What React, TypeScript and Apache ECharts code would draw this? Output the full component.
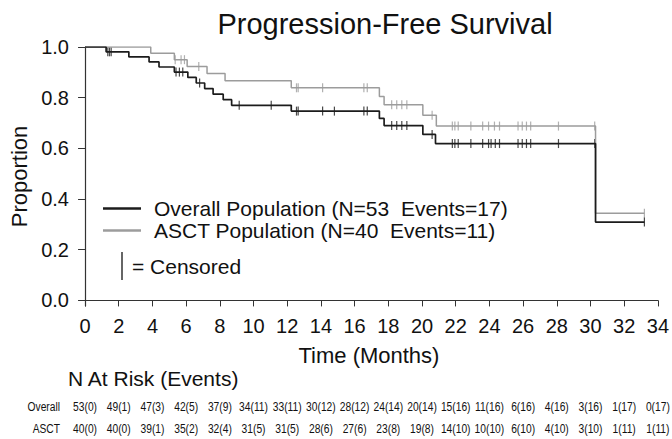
import React, { useEffect, useRef } from "react";
import * as echarts from "echarts";

const xTicks = [0, 2, 4, 6, 8, 10, 12, 14, 16, 18, 20, 22, 24, 26, 28, 30, 32, 34];
const yTicks = [0, 0.2, 0.4, 0.6, 0.8, 1.0];

const overallRisk = ["53(0)", "49(1)", "47(3)", "42(5)", "37(9)", "34(11)", "33(11)", "30(12)", "28(12)", "24(14)", "20(14)", "15(16)", "11(16)", "6(16)", "4(16)", "3(16)", "1(17)", "0(17)"];
const asctRisk = ["40(0)", "40(0)", "39(1)", "35(2)", "32(4)", "31(5)", "31(5)", "28(6)", "27(6)", "23(8)", "19(8)", "14(10)", "10(10)", "6(10)", "4(10)", "3(10)", "1(11)", "1(11)"];
const riskRowNames = ["Overall", "ASCT"];

const overallName = "Overall Population (N=53  Events=17)";
const asctName = "ASCT Population (N=40  Events=11)";

// [time (months), proportion] survival steps
const overallSteps = [
  [0, 1.0], [1.25, 0.981], [2.6, 0.961], [3.8, 0.941], [4.39, 0.921], [5.3, 0.901],
  [6.1, 0.88], [6.6, 0.858], [7.1, 0.836], [7.6, 0.814], [8.2, 0.792], [8.7, 0.77],
  [12.24, 0.747], [17.47, 0.718], [17.75, 0.69], [20.05, 0.655], [20.8, 0.619],
  [30.3, 0.309], [33.2, 0.309],
];
const overallCensored = [
  [1.35, 0.981], [1.45, 0.981], [1.55, 0.981], [5.4, 0.901], [5.6, 0.901], [5.8, 0.901],
  [6.8, 0.858], [9.15, 0.77], [11.05, 0.77], [12.55, 0.747], [12.65, 0.747], [14.1, 0.747],
  [14.8, 0.747], [16.55, 0.747], [16.75, 0.747], [18.2, 0.69], [18.5, 0.69], [18.8, 0.69],
  [19.1, 0.69], [20.6, 0.655], [21.8, 0.619], [21.95, 0.619], [22.15, 0.619], [22.9, 0.619],
  [23.6, 0.619], [23.95, 0.619], [24.1, 0.619], [24.35, 0.619], [24.6, 0.619], [25.7, 0.619],
  [25.95, 0.619], [26.2, 0.619], [26.45, 0.619], [28.1, 0.619], [30.25, 0.619], [33.2, 0.309],
];
const asctSteps = [
  [0, 1.0], [3.9, 0.975], [5.3, 0.95], [6.06, 0.923], [7.24, 0.895], [8.31, 0.867],
  [12.24, 0.839], [17.47, 0.805], [17.75, 0.772], [20.05, 0.731], [20.85, 0.688],
  [30.3, 0.344], [33.2, 0.344],
];
const asctCensored = [
  [5.35, 0.95], [5.7, 0.95], [5.9, 0.95], [6.75, 0.923], [12.55, 0.839], [12.65, 0.839],
  [14.1, 0.839], [16.55, 0.839], [16.75, 0.839], [18.2, 0.772], [18.5, 0.772], [18.8, 0.772],
  [19.1, 0.772], [20.6, 0.731], [21.8, 0.688], [21.95, 0.688], [22.15, 0.688], [22.9, 0.688],
  [23.6, 0.688], [23.95, 0.688], [24.3, 0.688], [24.6, 0.688], [25.7, 0.688], [25.95, 0.688],
  [26.2, 0.688], [26.45, 0.688], [28.1, 0.688], [30.25, 0.688], [33.2, 0.344],
];

const DARK = "#1c1c1c";
const GRAY = "#9c9c9c";
const FONT = "'Liberation Sans', Arial, sans-serif";

export default function App() {
  const ref = useRef<HTMLDivElement>(null);
  useEffect(() => {
    document.body.style.margin = "0";
    const chart = echarts.init(ref.current!, undefined, { renderer: "svg" });
    chart.setOption({
      animation: false,
      backgroundColor: "#fff",
      title: {
        text: "Progression-Free Survival",
        left: 380,
        top: 4,
        textAlign: "center",
        textStyle: { fontSize: 29, fontWeight: "normal", fontFamily: FONT, color: "#111" },
      },
      grid: { left: 77, right: 12, top: 47, bottom: 133 },
      legend: {
        orient: "vertical",
        left: 98,
        top: 193,
        itemWidth: 38,
        itemHeight: 2.5,
        itemGap: 1,
        data: [
          { name: overallName, icon: "rect" },
          { name: asctName, icon: "rect" },
        ],
        textStyle: { fontSize: 21, fontFamily: FONT, color: "#111", padding: [0, 0, 0, 8] },
      },
      xAxis: {
        type: "value",
        min: -0.3,
        max: 34,
        name: "Time (Months)",
        nameLocation: "middle",
        nameGap: 38,
        nameTextStyle: { fontSize: 22, fontFamily: FONT, color: "#111" },
        axisLine: { show: true, lineStyle: { color: "#333", width: 1.2 } },
        axisTick: { show: true, customValues: xTicks, length: 6, lineStyle: { color: "#333" } },
        axisLabel: { customValues: xTicks, margin: 10, fontSize: 20, fontFamily: FONT, color: "#111" },
        splitLine: { show: false },
      },
      yAxis: {
        type: "value",
        min: -0.022,
        max: 1.0,
        name: "Proportion",
        nameLocation: "middle",
        nameGap: 50,
        nameTextStyle: { fontSize: 22, fontFamily: FONT, color: "#111" },
        axisLine: { show: true, lineStyle: { color: "#333", width: 1.2 } },
        axisTick: { show: true, customValues: yTicks, length: 7, lineStyle: { color: "#333" } },
        axisLabel: {
          customValues: yTicks,
          margin: 11,
          fontSize: 20,
          fontFamily: FONT,
          color: "#111",
          formatter: (v: number) => v.toFixed(1),
        },
        splitLine: { show: false },
      },
      series: [
        {
          name: asctName,
          type: "line",
          step: "end",
          symbol: "none",
          data: asctSteps,
          color: GRAY,
          lineStyle: { color: GRAY, width: 1.5 },
        },
        {
          name: overallName,
          type: "line",
          step: "end",
          symbol: "none",
          data: overallSteps,
          color: DARK,
          lineStyle: { color: DARK, width: 1.7 },
        },
        {
          name: "asct-censored",
          type: "scatter",
          symbol: "rect",
          symbolSize: [1.2, 9],
          data: asctCensored,
          itemStyle: { color: GRAY },
        },
        {
          name: "overall-censored",
          type: "scatter",
          symbol: "rect",
          symbolSize: [1.2, 9],
          data: overallCensored,
          itemStyle: { color: DARK },
        },
      ],
    });

    const rowY = [406, 428];
    const riskText = (text: string, x: number, y: number, align: string) => ({
      type: "text",
      x,
      y,
      scaleX: 0.76,
      style: { text, fontSize: 13.5, fontFamily: FONT, fill: "#111", align, verticalAlign: "middle" },
    });
    const riskEls: any[] = [];
    [overallRisk, asctRisk].forEach((row, r) => {
      riskEls.push(riskText(riskRowNames[r], 60, rowY[r], "right"));
      row.forEach((t, i) => {
        const px = chart.convertToPixel({ xAxisIndex: 0 }, xTicks[i]) as number;
        riskEls.push(riskText(t, px, rowY[r], "center"));
      });
    });

    chart.setOption({
      graphic: [
        { type: "line", shape: { x1: 122, y1: 252, x2: 122, y2: 280 }, style: { stroke: "#333", lineWidth: 1.5 } },
        { type: "text", x: 132, y: 266, style: { text: "= Censored", fontSize: 21, fontFamily: FONT, fill: "#111", verticalAlign: "middle" } },
        { type: "text", x: 68, y: 378, style: { text: "N At Risk (Events)", fontSize: 21, fontFamily: FONT, fill: "#111", verticalAlign: "middle" } },
        ...riskEls,
      ],
    });
    return () => chart.dispose();
  }, []);
  return <div ref={ref} style={{ width: 672, height: 439 }} />;
}
